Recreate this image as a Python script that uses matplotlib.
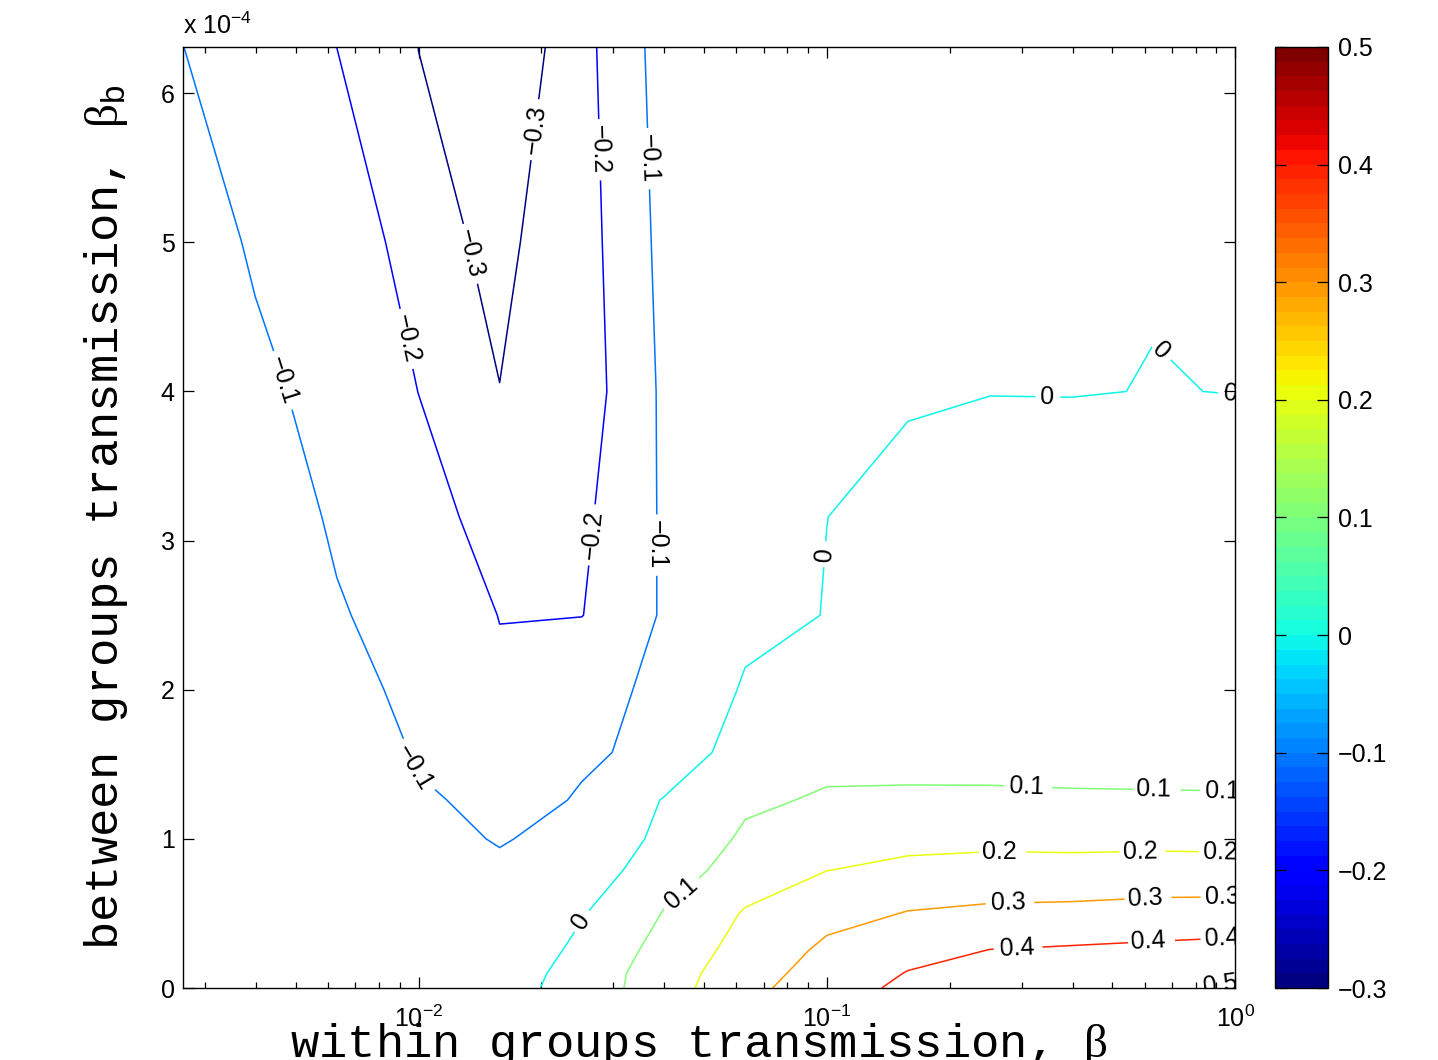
import matplotlib
matplotlib.use('Agg')
import matplotlib.pyplot as plt
import numpy as np
from matplotlib import ticker
from matplotlib.colors import Normalize
from matplotlib.cm import ScalarMappable

plt.rcParams['font.family'] = ['Liberation Sans', 'DejaVu Sans']
plt.rcParams['mathtext.fontset'] = 'custom'
plt.rcParams['mathtext.rm'] = 'Liberation Serif'
plt.rcParams['mathtext.sf'] = 'Liberation Sans'
plt.rcParams['axes.unicode_minus'] = True

# within groups transmission (log spaced sweep)
beta = [0.00265, 0.00398, 0.00631, 0.01, 0.0158, 0.0251, 0.0398,
        0.0631, 0.1, 0.158, 0.251, 0.398, 0.631, 1.0]
# between groups transmission
beta_b = [0, 0.1e-4, 0.25e-4, 0.5e-4, 0.79e-4, 1.0e-4, 1.26e-4,
          1.58e-4, 2.0e-4, 2.5e-4, 3.16e-4, 4.0e-4, 5.0e-4, 6.31e-4]

# response surface: one row per beta_b value, one column per beta value
response = [
    [-0.025, -0.030, -0.035, -0.040, -0.035, 0.045, 0.165, 0.270, 0.375, 0.415, 0.445, 0.470, 0.490, 0.510],
    [-0.025, -0.030, -0.037, -0.045, -0.0455, 0.042, 0.160, 0.258, 0.350, 0.404, 0.428, 0.447, 0.462, 0.4785],
    [-0.025, -0.031, -0.040, -0.050, -0.0566, 0.022, 0.142, 0.240, 0.322, 0.369, 0.403, 0.412, 0.4216, 0.4325],
    [-0.026, -0.032, -0.045, -0.065, -0.078, -0.005, 0.104, 0.210, 0.2687, 0.305, 0.3207, 0.326, 0.337, 0.341],
    [-0.026, -0.033, -0.048, -0.080, -0.0987, -0.052, 0.0637, 0.139, 0.199, 0.223, 0.2324, 0.231, 0.2367, 0.2345],
    [-0.027, -0.034, -0.050, -0.098, -0.1005, -0.097, 0.036, 0.115, 0.162, 0.173, 0.178, 0.1756, 0.1767, 0.1744],
    [-0.027, -0.035, -0.052, -0.0919, -0.119, -0.095, 0.0055, 0.085, 0.112, 0.1043, 0.1038, 0.1030, 0.1023, 0.1023],
    [-0.028, -0.036, -0.0547, -0.108, -0.155, -0.108, -0.083, 0.0707, 0.069, 0.0908, 0.0916, 0.0909, 0.0917, 0.0902],
    [-0.029, -0.038, -0.062, -0.135, -0.1875, -0.1133, -0.090, 0.0123, 0.039, 0.0736, 0.0755, 0.075, 0.0776, 0.0744],
    [-0.030, -0.042, -0.0908, -0.155, -0.2017, -0.202, -0.0887, -0.0287, 0.0032, 0.0532, 0.0563, 0.0561, 0.0609, 0.0556],
    [-0.032, -0.047, -0.115, -0.160, -0.250, -0.2154, -0.0872, -0.040, -0.0004, 0.0262, 0.031, 0.0312, 0.0389, 0.0308],
    [-0.040, -0.0877, -0.125, -0.201, -0.2989, -0.2413, -0.0826, -0.040, -0.010, -0.0082, -0.00116, -0.0015, 0.00093, -0.00076],
    [-0.075, -0.107, -0.1076, -0.2787, -0.3175, -0.2344, -0.0705, -0.030, -0.015, -0.012, -0.008, -0.005, -0.002, -0.005],
    [-0.0995, -0.150, -0.2005, -0.3005, -0.374, -0.2259, -0.0535, -0.030, -0.020, -0.015, -0.012, -0.010, -0.008, -0.008],
]

levels = [-0.3, -0.2, -0.1, 0.0, 0.1, 0.2, 0.3, 0.4, 0.5]

# where the level labels sit (beta, beta_b)
label_spots = [
    (0.0187, 5.76e-4), (0.0132, 4.92e-4),
    (0.0272, 5.62e-4), (0.00924, 4.35e-4), (0.0262, 3.04e-4),
    (0.0356, 5.56e-4), (0.00436, 4.05e-4), (0.0375, 2.97e-4), (0.00977, 1.48e-4),
    (0.0248, 0.456e-4), (0.0972, 2.91e-4), (0.346, 3.97e-4), (0.655, 4.27e-4), (0.972, 3.97e-4),
    (0.0439, 0.64e-4), (0.309, 1.34e-4), (0.63, 1.32e-4), (0.93, 1.31e-4),
    (0.265, 0.906e-4), (0.585, 0.906e-4), (0.92, 0.89e-4),
    (0.278, 0.57e-4), (0.601, 0.61e-4), (0.93, 0.61e-4),
    (0.292, 0.27e-4), (0.612, 0.32e-4), (0.93, 0.35e-4),
    (0.92, 0.02e-4),
]


def signed(v):
    return f'{round(v, 1) + 0.0:g}'.replace('-', '\u2212')


jet = plt.get_cmap('jet', 64)
norm = Normalize(vmin=-0.3, vmax=0.5)

fig = plt.figure(figsize=(14.38, 10.60), dpi=100)
ax = fig.add_axes([0.1273, 0.0679, 0.7316, 0.8878])
ax.set_xscale('log')

cs = ax.contour(beta, beta_b, response, levels=levels, cmap=jet, norm=norm,
                linewidths=1.1)
texts = ax.clabel(cs, levels, manual=label_spots, inline=True, inline_spacing=6,
                  fontsize=18, colors='k', fmt=signed)
for t in texts:
    t.set_clip_path(ax.patch)

ax.set_xlim(beta[0], beta[-1])
ax.set_ylim(beta_b[0], beta_b[-1])
ax.xaxis.set_major_locator(ticker.LogLocator(base=10, numticks=10))
ax.xaxis.set_minor_locator(ticker.LogLocator(base=10, subs=np.arange(2, 10), numticks=20))
ax.xaxis.set_minor_formatter(ticker.NullFormatter())
ax.set_yticks(np.arange(0, 7) * 1e-4)
ax.yaxis.set_major_formatter(ticker.FuncFormatter(lambda v, p: f'{v * 1e4:.0f}'))

ax.tick_params(which='both', direction='in', top=True, right=True, labelsize=18)
ax.tick_params(which='major', length=8, width=0.9)
ax.tick_params(which='minor', length=4, width=0.9)
ax.tick_params(axis='x', pad=13)
ax.tick_params(axis='y', pad=6)
for s in ax.spines.values():
    s.set_linewidth(1.0)

ax.text(0.0, 1.008, r'x 10$^{\mathdefault{-4}}$', transform=ax.transAxes,
        fontsize=18, ha='left', va='bottom')

ax.set_xlabel(r'within groups transmission, $\mathrm{\beta}$',
              family='Liberation Mono', fontsize=34)
ax.xaxis.set_label_coords(0.49, -0.0733)
ax.xaxis.label.set_va('baseline')
ax.set_ylabel(r'between groups transmission, $\mathrm{\beta}_{\mathsf{b}}$',
              family='Liberation Mono', fontsize=34)
ax.yaxis.set_label_coords(-0.05, 0.5)

cax = fig.add_axes([0.8866, 0.0679, 0.0369, 0.8878])
cb = fig.colorbar(ScalarMappable(norm=norm, cmap=jet), cax=cax, ticks=levels)
cb.ax.yaxis.set_major_formatter(ticker.FuncFormatter(lambda v, p: signed(v)))
cb.ax.tick_params(direction='in', left=True, right=True, labelleft=False,
                  length=8, width=0.9, labelsize=18, pad=7)
cb.outline.set_linewidth(1.0)

fig.savefig('out.png', dpi=100, facecolor='white')
